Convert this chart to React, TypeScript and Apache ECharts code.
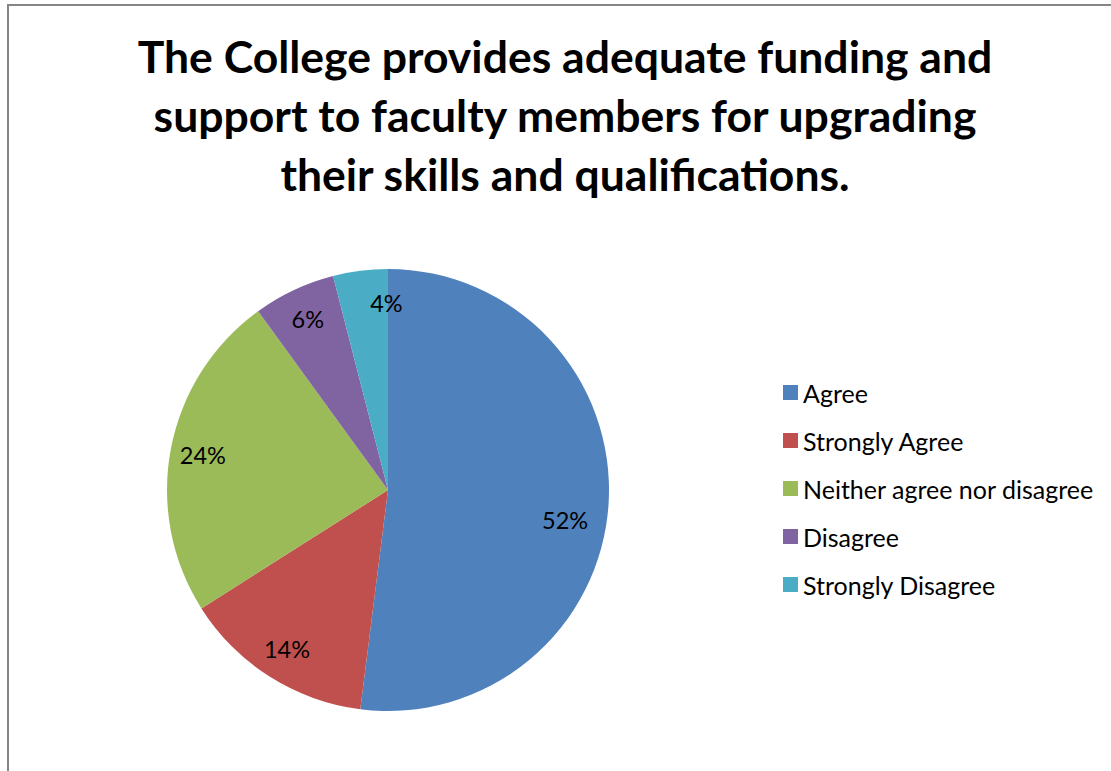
import React, { useEffect, useRef } from "react";
import * as echarts from "echarts";

const titleLines = [
  "The College provides adequate funding and",
  "support to faculty members for upgrading",
  "their skills and qualifications.",
];
const categories = [
  "Agree",
  "Strongly Agree",
  "Neither agree nor disagree",
  "Disagree",
  "Strongly Disagree",
];
const values = [52, 14, 24, 6, 4];
const colors = ["#4F81BD", "#C0504D", "#9BBB59", "#8064A2", "#4BACC6"];

const FONT = "Lato, 'Noto Sans', sans-serif";

// small nudges of the data labels (Excel "best fit" placement)
const labelNudge: Record<string, any> = {
  Agree: { padding: [0, 22, 0, 0], formatter: "\n{c}%", lineHeight: 36 },
  "Strongly Disagree": { padding: [0, 0, 0, 44] },
};

export default function App() {
  const ref = useRef<HTMLDivElement>(null);
  useEffect(() => {
    if (!ref.current) return;
    const chart = echarts.init(ref.current, undefined, { renderer: "svg" });
    const data = categories.map((name, i) => ({
      name,
      value: values[i],
      itemStyle: { color: colors[i] },
    }));
    chart.setOption({
      animation: false,
      backgroundColor: "#ffffff",
      title: {
        text: titleLines.join("\n"),
        left: 565,
        top: 26,
        padding: 0,
        textAlign: "center",
        textStyle: {
          fontFamily: FONT,
          fontWeight: "bold",
          fontSize: 44.5,
          lineHeight: 59,
          color: "#000000",
        },
      },
      legend: {
        orient: "vertical",
        left: 783,
        top: 380,
        padding: 0,
        itemWidth: 15,
        itemHeight: 15,
        itemGap: 23,
        icon: "rect",
        data: categories,
        textStyle: {
          fontFamily: FONT,
          fontSize: 25,
          lineHeight: 25,
          color: "#000000",
        },
      },
      graphic: [
        {
          type: "rect",
          shape: { x: 8, y: 5, width: 1300, height: 1000 },
          style: { fill: "none", stroke: "#868686", lineWidth: 2 },
          silent: true,
        },
      ],
      series: [
        {
          type: "pie",
          center: [388, 490],
          radius: 221,
          startAngle: 90,
          clockwise: true,
          data,
          label: { show: false },
          labelLine: { show: false },
          itemStyle: { borderWidth: 0 },
          emphasis: { disabled: true },
        },
        {
          type: "pie",
          center: [388, 490],
          radius: [150, 221],
          startAngle: 90,
          clockwise: true,
          silent: true,
          data: categories.map((name, i) => ({
            name,
            value: values[i],
            label: labelNudge[name] || {},
          })),
          itemStyle: { color: "rgba(0,0,0,0)", borderWidth: 0 },
          label: {
            show: true,
            position: "inside",
            formatter: "{c}%",
            fontFamily: FONT,
            fontSize: 23.5,
            color: "#000000",
          },
          labelLine: { show: false },
          emphasis: { disabled: true },
          legendHoverLink: false,
        },
      ],
    });
    return () => chart.dispose();
  }, []);
  return (
    <div
      ref={ref}
      style={{ position: "fixed", left: 0, top: 0, width: 1111, height: 771 }}
    />
  );
}
